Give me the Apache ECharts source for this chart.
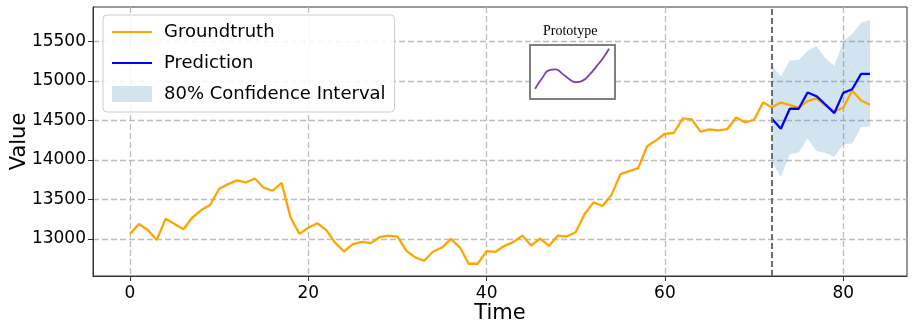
<!DOCTYPE html>
<html>
<head>
<meta charset="utf-8">
<script src="https://cdn.jsdelivr.net/npm/echarts@6/dist/echarts.min.js"></script>
<style>
  html, body { margin: 0; padding: 0; background: #fff; }
  #chartDiv { width: 913px; height: 332px; }
</style>
</head>
<body>
<div id="chartDiv"></div>
<script>
// groundtruth, t = 0..83
var gtValues = [
  13063, 13189, 13113, 12987, 13256, 13189, 13122, 13273, 13365, 13432,
  13634, 13693, 13740, 13714, 13765, 13647, 13609, 13710, 13273, 13063,
  13140, 13198, 13113, 12953, 12840, 12933, 12962, 12946, 13021, 13042,
  13029, 12849, 12765, 12723, 12840, 12890, 13000, 12890, 12685, 12685,
  12845, 12836, 12912, 12958, 13042, 12916, 13004, 12912, 13042, 13029,
  13088, 13315, 13462, 13416, 13554, 13819, 13857, 13895, 14172, 14247,
  14330, 14340, 14525, 14512, 14357, 14386, 14373, 14390, 14537, 14474,
  14508, 14726, 14667, 14726, 14697, 14659, 14743, 14780, 14688, 14613,
  14659, 14877, 14751, 14697
];
// prediction and 80% interval, t = 72..83
var predStart = 72;
var predValues = [14521, 14395, 14647, 14647, 14852, 14806, 14701, 14592, 14848, 14894, 15088, 15088];
var ciUpper = [15192, 15054, 15255, 15264, 15381, 15440, 15285, 15192, 15499, 15592, 15738, 15768];
var ciLower = [13974, 13785, 14071, 14092, 14269, 14113, 14088, 14037, 14197, 14206, 14415, 14424];

var xTicks = [0, 20, 40, 60, 80];
var yTicks = [13000, 13500, 14000, 14500, 15000, 15500];

// inset "Prototype" shape
var protoX = [0.06, 0.14, 0.22, 0.30, 0.38, 0.46, 0.54, 0.62, 0.70, 0.78, 0.86, 0.93];
var protoY = [0.19, 0.38, 0.53, 0.55, 0.47, 0.37, 0.31, 0.34, 0.45, 0.60, 0.76, 0.93];

var myChart = echarts.init(document.getElementById('chartDiv'));

var gtData = gtValues.map(function (v, i) { return [i, v]; });
var predData = predValues.map(function (v, i) { return [predStart + i, v]; });
var ciData = ciUpper.map(function (v, i) { return [predStart + i, ciLower[i], v]; });
var protoData = protoX.map(function (x, i) { return [x, protoY[i]]; });

var font = 'DejaVu Sans';
var splitStyle = { color: '#bdbdbd', width: 1.3, type: [6, 3] };
var plain = function (val) { return String(val); };

var option = {
  animation: false,
  backgroundColor: '#fff',
  textStyle: { fontFamily: font },
  grid: [
    { left: 93, right: 6, top: 7, bottom: 56, show: true, borderColor: '#333', borderWidth: 1,
      outerBoundsMode: 'none', containLabel: false },
    { left: 530, top: 45, width: 85, height: 54, show: true, z: 3,
      outerBoundsMode: 'none', containLabel: false,
      backgroundColor: '#fff', borderColor: '#808080', borderWidth: 2 }
  ],
  xAxis: [
    {
      type: 'value', gridIndex: 0, min: -4.15, max: 87.15,
      name: 'Time', nameLocation: 'middle', nameGap: 27, nameMoveOverlap: false,
      nameTextStyle: { fontSize: 21, color: '#000', fontFamily: font },
      axisLine: { show: true, onZero: false, lineStyle: { color: '#333' } },
      axisTick: { show: true, inside: false, length: 5, customValues: xTicks, lineStyle: { color: '#333' } },
      axisLabel: { customValues: xTicks, fontSize: 17, color: '#000', margin: 9, fontFamily: font, formatter: plain },
      splitLine: { show: true, lineStyle: splitStyle }
    },
    { type: 'value', gridIndex: 1, min: 0, max: 1, show: false }
  ],
  yAxis: [
    {
      type: 'value', gridIndex: 0, min: 12530, max: 15935,
      name: 'Value', nameLocation: 'middle', nameGap: 63, nameMoveOverlap: false,
      nameTextStyle: { fontSize: 21, color: '#000', fontFamily: font },
      axisLine: { show: true, onZero: false, lineStyle: { color: '#333' } },
      axisTick: { show: true, inside: false, length: 5, customValues: yTicks, lineStyle: { color: '#333' } },
      axisLabel: { customValues: yTicks, fontSize: 17, color: '#000', margin: 7, fontFamily: font, formatter: plain },
      splitLine: { show: true, lineStyle: splitStyle }
    },
    { type: 'value', gridIndex: 1, min: 0, max: 1, show: false }
  ],
  legend: {
    orient: 'vertical', left: 103, top: 15,
    padding: [8, 9, 9, 9],
    itemWidth: 40, itemHeight: 16, itemGap: 13,
    backgroundColor: 'rgba(255,255,255,0.85)',
    borderColor: '#cccccc', borderWidth: 1, borderRadius: 4,
    textStyle: { fontSize: 18, color: '#000', fontFamily: font, padding: [0, 0, 0, 7] },
    data: [
      { name: 'Groundtruth', icon: 'path://M0,0 L40,0 L40,2 L0,2 Z' },
      { name: 'Prediction', icon: 'path://M0,0 L40,0 L40,2 L0,2 Z' },
      { name: '80% Confidence Interval', icon: 'rect' }
    ]
  },
  graphic: [
    {
      type: 'text', left: 543, top: 24, z: 10,
      style: { text: 'Prototype', fontSize: 14, fontFamily: 'Liberation Serif', fill: '#000' }
    }
  ],
  series: [
    {
      name: '80% Confidence Interval', type: 'custom', z: 1,
      xAxisIndex: 0, yAxisIndex: 0,
      data: ciData,
      encode: { x: 0, y: [1, 2] },
      itemStyle: { color: '#d2e4f0' },
      renderItem: function (params, api) {
        if (params.dataIndex !== 0) return null;
        var pts = [];
        for (var i = 0; i < ciData.length; i++) pts.push(api.coord([ciData[i][0], ciData[i][2]]));
        for (var j = ciData.length - 1; j >= 0; j--) pts.push(api.coord([ciData[j][0], ciData[j][1]]));
        return { type: 'polygon', shape: { points: pts }, style: { fill: 'rgba(31,119,180,0.2)' } };
      }
    },
    {
      name: 'Groundtruth', type: 'line', z: 2,
      xAxisIndex: 0, yAxisIndex: 0,
      data: gtData, showSymbol: false,
      lineStyle: { color: '#FFA500', width: 2.3 },
      itemStyle: { color: '#FFA500' }
    },
    {
      name: 'Prediction', type: 'line', z: 3,
      xAxisIndex: 0, yAxisIndex: 0,
      data: predData, showSymbol: false,
      lineStyle: { color: '#0000FF', width: 2.3 },
      itemStyle: { color: '#0000FF' },
      markLine: {
        silent: true, symbol: 'none', label: { show: false },
        lineStyle: { color: '#6e6e6e', width: 2, type: [6, 3] },
        data: [{ xAxis: predStart }]
      }
    },
    {
      name: 'prototype', type: 'line', z: 20,
      xAxisIndex: 1, yAxisIndex: 1,
      data: protoData, smooth: true, showSymbol: false,
      lineStyle: { color: '#7b3fb3', width: 1.8 }
    }
  ]
};

myChart.setOption(option);
</script>
</body>
</html>
